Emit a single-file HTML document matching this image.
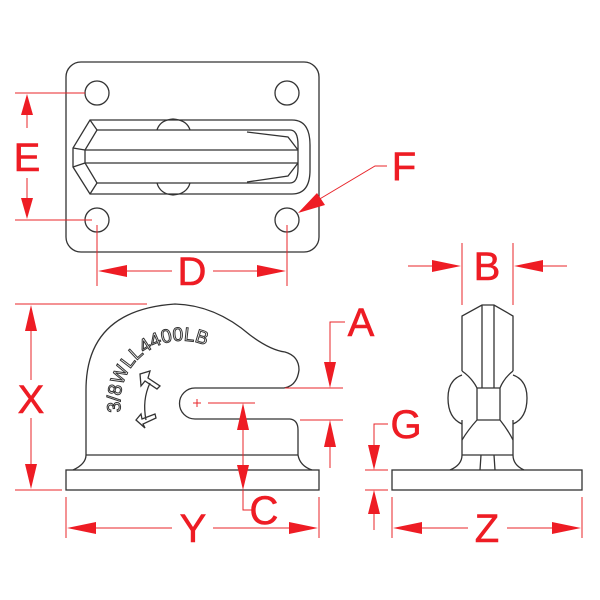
<!DOCTYPE html>
<html><head><meta charset="utf-8"><style>
html,body{margin:0;padding:0;background:#fff}
svg{display:block}
.k{fill:none;stroke:#333;stroke-width:1.3}
.r{fill:none;stroke:#e8242a;stroke-width:1}
.a{fill:#ee1c24;stroke:none}
.t{fill:#ee1c24;stroke:#ee1c24;stroke-width:0.6;font-family:"Liberation Sans",sans-serif;font-size:40px;text-anchor:middle;dominant-baseline:central}
</style></head><body>
<svg width="600" height="600" viewBox="0 0 600 600" xmlns="http://www.w3.org/2000/svg">
<!-- TOP VIEW -->
<rect class="k" x="66" y="62" width="253" height="190" rx="15"/>
<circle class="k" cx="97" cy="93" r="12"/>
<circle class="k" cx="287" cy="93" r="12"/>
<circle class="k" cx="97" cy="220" r="12"/>
<circle class="k" cx="287" cy="220" r="12"/>
<path class="k" d="M90 120 H292 Q310 120 310 145 V170 Q310 194 292 194 H90 L73 167 V148 Z"/>
<path class="k" d="M97 130 H290 Q298 130 298 145 V168 Q298 183 290 183 H97 L85 163 V150 Z"/>
<path class="k" d="M85 150 H298 M85 163 H298 M73 148 L85 150 M73 167 L85 163 M90 120 L97 130 M90 194 L97 183"/>
<path class="k" d="M247 132 L288 137 L298 150 M247 182 L288 176 L298 163"/>
<path class="k" d="M157 130 Q160 120 173 119 Q187 120 190 130"/>
<path class="k" d="M157 183 Q160 194 173 195 Q187 194 190 183"/>
<!-- E -->
<path class="r" d="M15 93 H85 M15 220 H92 M27 115 V128 M27 178 V198"/>
<polygon class="a" points="27,94 21,115 33,115"/>
<polygon class="a" points="27,219 21,198 33,198"/>
<text class="t" x="27" y="158">E</text>
<!-- D -->
<path class="r" d="M97 225 V286 M287 225 V286 M126 271 H172 M213 271 H257"/>
<polygon class="a" points="98,271 127,265 127,277"/>
<polygon class="a" points="286,271 257,265 257,277"/>
<text class="t" x="192" y="272">D</text>
<!-- F -->
<path class="r" d="M387 166 H375 L318 200"/>
<polygon class="a" points="298,213 317,193 325,205"/>
<text class="t" x="404" y="167">F</text>

<!-- SIDE VIEW -->
<rect class="k" x="66" y="470" width="253" height="20"/>
<path class="k" d="M73 470 Q86 464 86 455 V390 Q86 310 175 304 Q215 305 250 335 Q270 350 285 352 Q299 356 299 370 Q297 386 284 388 H195 A15.5 15.5 0 0 0 195 419 H290 Q298 420 298 430 V455 Q300 466 312 470"/>
<path class="k" d="M86 455 H298"/>
<defs><path id="arc" d="M121 412 A62 62 0 0 1 215 350"/></defs>
<text font-family="Liberation Sans,sans-serif" font-size="19" fill="#fff" stroke="#333" stroke-width="1"><textPath href="#arc">3/8WLL4400LB</textPath></text>
<path class="k" d="M150 383 Q142 400 146 420" stroke-width="1.6"/>
<path class="k" stroke-width="1" d="M140 374 L150 371 L148 378 L160 386 L157 389 L145 381 L141 386 Z"/>
<path class="k" stroke-width="1" d="M136 420 L141 414 L142 419 L155 414 L156 418 L143 424 L145 428 Z"/>
<path class="r" d="M193 403 H201 M197 399 V407 M208 403 H255"/>
<!-- X -->
<path class="r" d="M15 304 H147 M15 490 H62 M31 330 V380 M31 418 V465"/>
<polygon class="a" points="31,305 25,331 37,331"/>
<polygon class="a" points="31,489 25,464 37,464"/>
<text class="t" x="31" y="400">X</text>
<!-- A -->
<path class="r" d="M285 388 H343 M300 420 H343 M345 322 H330 V362 M330 447 V468"/>
<polygon class="a" points="330,388 324,362 336,362"/>
<polygon class="a" points="330,420 324,447 336,447"/>
<text class="t" x="361" y="323">A</text>
<!-- C -->
<path class="r" d="M243 430 V470 M243 490 V510 H255"/>
<polygon class="a" points="243,403 237,430 249,430"/>
<polygon class="a" points="243,490 237,465 249,465"/>
<text class="t" x="264" y="511">C</text>
<!-- Y -->
<path class="r" d="M66 497 V538 M319 497 V538 M95 528 H172 M213 528 H290"/>
<polygon class="a" points="67,528 96,522 96,534"/>
<polygon class="a" points="318,528 289,522 289,534"/>
<text class="t" x="193" y="529">Y</text>

<!-- END VIEW -->
<rect class="k" x="392" y="470" width="190" height="20"/>
<path class="k" d="M462 371 V316 L482 305 H494 L513 316 V371 M482 305 V388 M494 305 V388"/>
<path class="k" d="M462 371 Q472 378 477 388 H500 Q504 378 513 371"/>
<path class="k" d="M462 375 Q448 380 448 398 Q448 418 462 424 M513 375 Q527 380 527 398 Q527 418 513 424"/>
<path class="k" d="M477 388 V420 M500 388 V420 M477 420 H500 M477 420 Q468 430 462 440 M500 420 Q508 430 513 440"/>
<path class="k" d="M462 420 V455 Q462 465 450 470 M513 420 V455 Q513 465 524 470 M462 455 H513 M481 455 L480 470 M494 455 L495 470"/>
<!-- B -->
<path class="r" d="M462 243 V305 M513 243 V305 M408 266 H432 M543 266 H567"/>
<polygon class="a" points="461,266 432,260 432,272"/>
<polygon class="a" points="514,266 543,260 543,272"/>
<text class="t" x="487" y="267">B</text>
<!-- G -->
<path class="r" d="M388 424 H374 V445 M365 470 H388 M365 490 H388 M374 512 V530"/>
<polygon class="a" points="374,470 368,445 380,445"/>
<polygon class="a" points="374,490 368,514 380,514"/>
<text class="t" x="406" y="425">G</text>
<!-- Z -->
<path class="r" d="M392 497 V538 M582 497 V538 M421 528 H468 M507 528 H553"/>
<polygon class="a" points="393,528 422,522 422,534"/>
<polygon class="a" points="581,528 552,522 552,534"/>
<text class="t" x="487" y="529">Z</text>
</svg>
</body></html>
